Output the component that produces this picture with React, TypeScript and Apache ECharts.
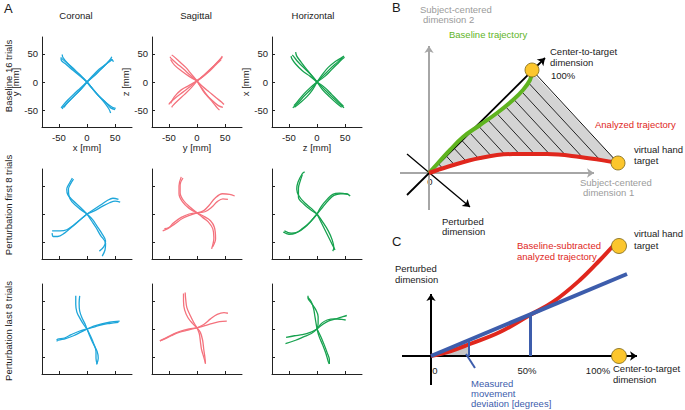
import React, { useEffect, useRef } from "react";
import * as echarts from "echarts";

const FONT = '"Liberation Sans", Arial, sans-serif';

// ---------- Panel A ----------
const planeTitles = ["Coronal", "Sagittal", "Horizontal"];
const rowTitles = ["Baseline 16 trials", "Perturbation first 8 trials", "Perturbation last 8 trials"];
const xNames = ["x [mm]", "y [mm]", "z [mm]"];
const yNames = ["y [mm]", "z [mm]", "x [mm]"];
const tickValues = [-50, 0, 50];
const planeColors = ["#1ea6da", "#f4727d", "#17a24f"];

const coronalBaseline = [
  [[0, 0], [-10, 10], [-22, 22], [-34, 33], [-43, 44], [-44, 49]],
  [[0, 0], [-12, 10], [-25, 21], [-37, 31], [-46, 40], [-46, 44]],
  [[0, 0], [-11, 11], [-24, 23], [-36, 34], [-45, 42]],
  [[0, 0], [12, 10], [24, 22], [35, 33], [42, 41], [44, 45]],
  [[0, 0], [10, 11], [22, 23], [34, 32], [44, 40], [47, 36]],
  [[0, 0], [13, 12], [26, 24], [37, 34], [45, 40]],
  [[0, 0], [-10, -12], [-22, -24], [-33, -35], [-42, -44], [-44, -48]],
  [[0, 0], [-12, -11], [-24, -22], [-35, -33], [-43, -42], [-46, -46]],
  [[0, 0], [-11, -13], [-23, -25], [-34, -36], [-41, -45]],
  [[0, 0], [8, -10], [20, -24], [33, -36], [42, -46], [50, -49]],
  [[0, 0], [10, -12], [22, -26], [32, -38], [39, -48], [42, -55]],
  [[0, 0], [9, -11], [21, -25], [34, -37], [45, -45], [51, -47]],
];
const sagittalBaseline = [
  [[0, 2], [-12, 12], [-24, 23], [-36, 33], [-46, 42], [-48, 45]],
  [[0, 2], [-10, 14], [-20, 26], [-32, 37], [-42, 46], [-45, 48]],
  [[0, 2], [-14, 10], [-28, 20], [-40, 30], [-47, 40]],
  [[0, 2], [12, 12], [24, 23], [35, 34], [43, 43], [45, 46]],
  [[0, 2], [11, 10], [23, 20], [33, 30], [40, 37], [43, 40]],
  [[0, 2], [14, 13], [26, 25], [37, 36], [45, 44]],
  [[0, 2], [-12, -8], [-25, -18], [-38, -28], [-48, -37], [-50, -40]],
  [[0, 2], [-10, -10], [-22, -22], [-34, -33], [-43, -42], [-45, -45]],
  [[0, 2], [-14, -6], [-28, -14], [-40, -26], [-47, -38]],
  [[0, 2], [6, -8], [14, -20], [26, -32], [38, -42], [46, -45]],
  [[0, 2], [8, -10], [18, -24], [28, -36], [36, -46], [40, -50]],
  [[0, 2], [10, -8], [22, -18], [34, -28], [44, -36], [48, -40]],
];
const horizontalBaseline = [
  [[0, 0], [-8, 10], [-18, 22], [-28, 35], [-36, 46], [-38, 53]],
  [[0, 0], [-12, 10], [-26, 20], [-38, 32], [-45, 42], [-46, 46]],
  [[0, 0], [-10, 12], [-22, 24], [-34, 36], [-42, 46], [-44, 48]],
  [[0, 0], [10, 14], [20, 26], [32, 36], [42, 42], [48, 46]],
  [[0, 0], [14, 10], [26, 22], [36, 32], [44, 40], [49, 44]],
  [[0, 0], [12, 12], [24, 24], [35, 34], [45, 43]],
  [[0, 0], [-10, -12], [-22, -24], [-32, -35], [-40, -43], [-43, -46]],
  [[0, 0], [-12, -10], [-24, -22], [-34, -34], [-41, -42]],
  [[0, 0], [-8, -14], [-18, -26], [-30, -37], [-40, -45]],
  [[0, 0], [12, -12], [24, -24], [36, -35], [46, -44], [48, -46]],
  [[0, 0], [10, -14], [22, -26], [34, -37], [44, -45]],
  [[0, 0], [14, -10], [26, -22], [38, -34], [47, -43]],
];
const coronalEarly = [
  [[0, 0], [-12, 12], [-25, 24], [-34, 34], [-36, 44], [-31, 55], [-26, 64]],
  [[0, 0], [-14, 10], [-27, 22], [-32, 32], [-33, 44], [-29, 54], [-24, 62]],
  [[0, 0], [12, 8], [24, 16], [36, 24], [46, 28], [56, 26]],
  [[0, 0], [14, 6], [28, 14], [40, 20], [50, 23], [59, 21]],
  [[0, 0], [-12, -10], [-24, -20], [-36, -28], [-48, -30], [-62, -30]],
  [[0, 0], [-14, -12], [-28, -24], [-40, -34], [-52, -40], [-60, -40], [-62, -34]],
  [[0, 0], [10, -10], [18, -22], [26, -34], [33, -48], [30, -58], [22, -66]],
  [[0, 0], [8, -12], [16, -24], [24, -38], [33, -52], [32, -64], [27, -75]],
];
const sagittalEarly = [
  [[0, 2], [-14, 10], [-26, 22], [-32, 36], [-32, 50], [-28, 66]],
  [[0, 2], [-12, 12], [-24, 24], [-30, 38], [-30, 52], [-25, 64]],
  [[0, 2], [12, 6], [22, 16], [32, 28], [45, 36], [58, 35], [67, 32]],
  [[0, 2], [14, 4], [26, 12], [36, 22], [46, 27], [55, 26]],
  [[0, 2], [-12, -2], [-26, -8], [-40, -18], [-52, -26], [-61, -30]],
  [[0, 2], [-14, 0], [-28, -6], [-42, -16], [-50, -24], [-58, -26]],
  [[0, 2], [10, -6], [20, -14], [28, -26], [30, -42], [26, -62]],
  [[0, 2], [12, -4], [24, -12], [31, -24], [33, -44], [28, -58]],
];
const horizontalEarly = [
  [[0, 0], [-10, 10], [-22, 20], [-32, 32], [-36, 44], [-34, 56], [-26, 72], [-22, 75]],
  [[0, 0], [-12, 8], [-24, 18], [-33, 30], [-33, 46], [-30, 58], [-26, 70]],
  [[0, 0], [10, 12], [20, 24], [30, 33], [42, 36], [52, 36], [59, 32]],
  [[0, 0], [8, 14], [18, 26], [28, 35], [40, 37], [55, 35]],
  [[0, 0], [-10, -12], [-22, -24], [-34, -32], [-46, -34], [-58, -30]],
  [[0, 0], [-12, -14], [-26, -26], [-38, -34], [-50, -36], [-60, -32]],
  [[0, 0], [10, -14], [20, -30], [27, -46], [30, -60], [28, -66]],
  [[0, 0], [8, -16], [16, -32], [24, -48], [30, -60], [32, -64]],
];
const coronalLate = [
  [[0, 0], [-6, 8], [-12, 18], [-18, 30], [-20, 44], [-20, 59]],
  [[0, 0], [-4, 10], [-9, 20], [-13, 32], [-14, 46], [-13, 59]],
  [[0, 0], [14, 4], [28, 8], [42, 10], [56, 12]],
  [[0, 0], [12, 5], [26, 9], [40, 12], [58, 14]],
  [[0, 0], [-12, -6], [-24, -12], [-38, -17], [-51, -20], [-54, -22]],
  [[0, 0], [-14, -4], [-28, -10], [-40, -16], [-52, -18], [-54, -20]],
  [[0, 0], [4, -10], [10, -24], [18, -40], [20, -52], [17, -63]],
  [[0, 0], [6, -12], [12, -26], [16, -40], [16, -52], [18, -62]],
];
const sagittalLate = [
  [[0, 2], [-8, 10], [-16, 20], [-22, 34], [-24, 50], [-24, 63]],
  [[0, 2], [-6, 12], [-12, 24], [-18, 38], [-20, 52], [-21, 65]],
  [[0, 2], [12, 8], [24, 18], [36, 26], [48, 29], [55, 28]],
  [[0, 2], [14, 6], [28, 10], [40, 13], [53, 14]],
  [[0, 2], [-14, 0], [-30, -4], [-44, -10], [-56, -16], [-66, -21]],
  [[0, 2], [-16, -2], [-32, -6], [-46, -12], [-58, -18], [-66, -21]],
  [[0, 2], [6, -6], [10, -20], [12, -36], [14, -50], [15, -62]],
  [[0, 2], [4, -8], [6, -22], [8, -36], [12, -50], [15, -60]],
];
const horizontalLate = [
  [[0, 0], [2, 10], [2, 22], [-2, 34], [-10, 46], [-16, 55], [-16, 59]],
  [[0, 0], [-2, 12], [-4, 24], [-6, 36], [-10, 48], [-16, 56]],
  [[0, 0], [10, 8], [20, 14], [34, 18], [46, 22], [53, 24]],
  [[0, 0], [8, 10], [18, 16], [32, 18], [44, 17], [51, 16]],
  [[0, 0], [-12, -6], [-26, -10], [-40, -12], [-55, -15]],
  [[0, 0], [-10, -8], [-24, -14], [-38, -20], [-56, -26]],
  [[0, 0], [6, -12], [12, -26], [18, -42], [22, -55], [22, -62]],
  [[0, 0], [4, -14], [10, -28], [16, -44], [20, -58], [22, -62]],
];
const panelTrajectories = [
  [coronalBaseline, sagittalBaseline, horizontalBaseline],
  [coronalEarly, sagittalEarly, horizontalEarly],
  [coronalLate, sagittalLate, horizontalLate],
];

// ---------- Panel B (schematic units, origin = start) ----------
const bBaseline = [[0, 0], [9, 10], [21, 23], [34, 36], [51, 48], [68, 60], [84, 73], [94, 83], [101, 93], [103, 101]];
const bAnalyzed = [[0, 0], [18, 6], [51, 15], [84, 19], [118, 19], [151, 16], [184, 11], [189, 10]];
const bTargets = [[103, 103], [189, 10]];
const bHatchOffsets = [18, 33, 48, 63, 78, 93, 108, 123, 138, 153, 168, 183];
const bHatchSlope = 1.08;
const bGreyAxes = [[[0, -37], [0, 127]], [[-29, 0], [165, 0]]];
const bCenterTargetAxis = [[-22, -22], [116, 115]];
const bPerturbedAxis = [[-22, 19], [41, -34]];

// ---------- Panel C ----------
const cAnalyzed = [[0, 0], [20, 5], [39, 12], [69, 24], [99, 41], [122, 54], [149, 76], [169, 96], [182, 110]];
const cFitLine = [[0, 0], [196, 82]];
const cMidDrop = [[99, 0], [99, 41]];
const cEarlyDrop = [[38, 0], [38, 15]];
const cPointer = [[35, 2], [44, -12]];
const cAngleWedge = [[0, 0], [38, 0], [38, 14]];
const cAxes = [[[-29, 0], [206, 0]], [[0, -29], [0, 62]]];
const cTargets = [[188, 0], [188, 110]];

const colLeft = [42, 152, 272];
const rowTop = [37, 169, 284];
const panelSize = 90;

function crossing(poly: number[][], c: number, k: number): number[] | null {
  for (let i = 0; i < poly.length - 1; i++) {
    const f1 = poly[i][0] + poly[i][1] / k - c;
    const f2 = poly[i + 1][0] + poly[i + 1][1] / k - c;
    if ((f1 <= 0 && f2 >= 0) || (f1 >= 0 && f2 <= 0)) {
      const t = f1 === f2 ? 0 : f1 / (f1 - f2);
      return [poly[i][0] + t * (poly[i + 1][0] - poly[i][0]), poly[i][1] + t * (poly[i + 1][1] - poly[i][1])];
    }
  }
  return null;
}

function txt(text: string, x: number, y: number, o: any = {}) {
  return {
    type: "text",
    x,
    y,
    rotation: o.rotation || 0,
    silent: true,
    style: {
      text,
      fill: o.color || "#1a1a1a",
      font: `${o.bold ? "bold " : ""}${o.size || 9.5}px ${FONT}`,
      textAlign: o.align || "left",
      textVerticalAlign: "middle",
    },
  };
}

function buildOption() {
  const grid: any[] = [];
  const xAxis: any[] = [];
  const yAxis: any[] = [];
  const series: any[] = [];
  const axisColor = "#222";

  for (let r = 0; r < 3; r++) {
    for (let c = 0; c < 3; c++) {
      const idx = grid.length;
      grid.push({ left: colLeft[c], top: rowTop[r], width: panelSize, height: panelSize });
      const common = {
        gridIndex: idx,
        type: "value",
        min: -80,
        max: 80,
        splitLine: { show: false },
        axisLine: { show: true, onZero: false, lineStyle: { color: axisColor, width: 1 } },
        axisTick: { show: true, inside: true, length: 3, customValues: tickValues, lineStyle: { color: axisColor } },
        axisLabel: {
          show: r === 0,
          customValues: tickValues,
          color: axisColor,
          fontSize: 9.5,
          fontFamily: FONT,
        },
        nameLocation: "middle",
        nameTextStyle: { color: axisColor, fontSize: 9.5, fontFamily: FONT },
      };
      xAxis.push({ ...common, axisLabel: { ...common.axisLabel, margin: 5 }, name: r === 0 ? xNames[c] : "", nameGap: 15 });
      yAxis.push({ ...common, axisLabel: { ...common.axisLabel, margin: 4 }, name: r === 0 ? yNames[c] : "", nameGap: 15 });
      for (const traj of panelTrajectories[r][c]) {
        series.push({
          type: "line",
          xAxisIndex: idx,
          yAxisIndex: idx,
          data: traj,
          symbol: "none",
          smooth: 0.35,
          silent: true,
          lineStyle: { color: planeColors[c], width: 1.3 },
        });
      }
    }
  }

  // Panel B grid (1 unit = 1 px)
  const bi = grid.length;
  grid.push({ left: 380, top: 0, width: 305, height: 210 });
  xAxis.push({ gridIndex: bi, type: "value", min: -49, max: 256, show: false });
  yAxis.push({ gridIndex: bi, type: "value", min: -37, max: 173, show: false });
  // Panel C grid
  const ci = grid.length;
  grid.push({ left: 380, top: 210, width: 305, height: 200 });
  xAxis.push({ gridIndex: ci, type: "value", min: -51, max: 254, show: false });
  yAxis.push({ gridIndex: ci, type: "value", min: -54, max: 146, show: false });

  // B: shaded hatched area
  series.push({
    type: "custom",
    xAxisIndex: bi,
    yAxisIndex: bi,
    data: [[0, 0]],
    silent: true,
    z: 1,
    renderItem: (_p: any, api: any) => {
      const poly = [...bBaseline, ...bAnalyzed.slice().reverse()].map((p) => api.coord(p));
      const children: any[] = [
        { type: "polygon", shape: { points: poly }, style: { fill: "#d4d4d4", stroke: "none" } },
      ];
      for (const c of bHatchOffsets) {
        const a = crossing(bBaseline, c, bHatchSlope);
        const b = crossing(bAnalyzed, c, bHatchSlope);
        if (a && b) {
          const pa = api.coord(a);
          const pb = api.coord(b);
          children.push({ type: "line", shape: { x1: pa[0], y1: pa[1], x2: pb[0], y2: pb[1] }, style: { stroke: "#111", lineWidth: 0.9 } });
        }
      }
      const t1 = api.coord(bTargets[0]);
      const t2 = api.coord(bTargets[1]);
      children.push({ type: "line", shape: { x1: t1[0], y1: t1[1], x2: t2[0], y2: t2[1] }, style: { stroke: "#111", lineWidth: 1 } });
      return { type: "group", children };
    },
  });
  series.push({
    type: "lines",
    coordinateSystem: "cartesian2d",
    xAxisIndex: bi,
    yAxisIndex: bi,
    silent: true,
    z: 2,
    symbol: ["none", "arrow"],
    symbolSize: 7,
    lineStyle: { color: "#a6a6a6", width: 2, opacity: 1 },
    data: bGreyAxes.map((coords) => ({ coords })),
  });
  series.push({
    type: "lines",
    coordinateSystem: "cartesian2d",
    xAxisIndex: bi,
    yAxisIndex: bi,
    silent: true,
    z: 3,
    symbol: ["none", "arrow"],
    symbolSize: 7,
    lineStyle: { color: "#000", width: 1.8, opacity: 1 },
    data: [{ coords: bCenterTargetAxis }, { coords: bPerturbedAxis, lineStyle: { width: 1.3 } }],
  });
  series.push({
    type: "line", xAxisIndex: bi, yAxisIndex: bi, data: bBaseline, symbol: "none", smooth: 0.4, silent: true, z: 4,
    lineStyle: { color: "#5fb41f", width: 4 },
  });
  series.push({
    type: "line", xAxisIndex: bi, yAxisIndex: bi, data: bAnalyzed, symbol: "none", smooth: 0.4, silent: true, z: 4,
    lineStyle: { color: "#e0271d", width: 4 },
  });
  series.push({
    type: "scatter", xAxisIndex: bi, yAxisIndex: bi, data: bTargets, symbolSize: 14, silent: true, z: 5,
    itemStyle: { color: "#fcc62d", borderColor: "#7a6416", borderWidth: 0.8, opacity: 1 },
  });

  // C
  series.push({
    type: "custom",
    xAxisIndex: ci,
    yAxisIndex: ci,
    data: [[0, 0]],
    silent: true,
    z: 1,
    renderItem: (_p: any, api: any) => ({
      type: "polygon",
      shape: { points: cAngleWedge.map((p) => api.coord(p)) },
      style: { fill: "#c8c8c8", stroke: "none" },
    }),
  });
  series.push({
    type: "lines",
    coordinateSystem: "cartesian2d",
    xAxisIndex: ci,
    yAxisIndex: ci,
    silent: true,
    z: 2,
    symbol: ["none", "arrow"],
    symbolSize: 7,
    lineStyle: { color: "#000", width: 2, opacity: 1 },
    data: cAxes.map((coords) => ({ coords })),
  });
  series.push({
    type: "line", xAxisIndex: ci, yAxisIndex: ci, data: cAnalyzed, symbol: "none", smooth: 0.4, silent: true, z: 3,
    lineStyle: { color: "#e0271d", width: 4 },
  });
  series.push({
    type: "lines",
    coordinateSystem: "cartesian2d",
    xAxisIndex: ci,
    yAxisIndex: ci,
    silent: true,
    z: 4,
    symbol: "none",
    lineStyle: { color: "#3d5dac", width: 4, opacity: 1 },
    data: [
      { coords: cFitLine },
      { coords: cMidDrop, lineStyle: { width: 3 } },
      { coords: cEarlyDrop, lineStyle: { width: 2 } },
      { coords: cPointer, lineStyle: { width: 2 } },
    ],
  });
  series.push({
    type: "scatter", xAxisIndex: ci, yAxisIndex: ci, data: cTargets, symbolSize: 15, silent: true, z: 5,
    itemStyle: { color: "#fcc62d", borderColor: "#7a6416", borderWidth: 0.8, opacity: 1 },
  });

  const grey = "#9b9b9b";
  const red = "#e0271d";
  const green = "#5fb41f";
  const blue = "#3d5dac";
  const graphic: any[] = [
    txt("A", 4, 8, { size: 13 }),
    txt(planeTitles[0], 76, 15, { align: "center" }),
    txt(planeTitles[1], 196, 15, { align: "center" }),
    txt(planeTitles[2], 313, 15, { align: "center" }),
    txt(rowTitles[0], 8, 76, { align: "center", rotation: Math.PI / 2 }),
    txt(rowTitles[1], 8, 205, { align: "center", rotation: Math.PI / 2 }),
    txt(rowTitles[2], 8, 331, { align: "center", rotation: Math.PI / 2 }),
    // B
    txt("B", 392, 7, { size: 13 }),
    txt("Subject-centered", 420, 9, { color: grey }),
    txt("dimension 2", 423, 19, { color: grey }),
    txt("Baseline trajectory", 449, 34, { color: green }),
    txt("Center-to-target", 550, 51),
    txt("dimension", 550, 62),
    txt("100%", 551, 75),
    txt("Analyzed trajectory", 595, 124, { color: red }),
    txt("virtual hand", 634, 149),
    txt("target", 634, 160),
    txt("0", 430, 181, { align: "center" }),
    txt("Subject-centered", 580, 182, { color: grey }),
    txt("dimension 1", 583, 192, { color: grey }),
    txt("Perturbed", 442, 221),
    txt("dimension", 442, 231),
    // C
    txt("C", 392, 241, { size: 13 }),
    txt("Perturbed", 395, 268),
    txt("dimension", 395, 279),
    txt("Baseline-subtracted", 517, 245, { color: red }),
    txt("analyzed trajectory", 517, 256, { color: red }),
    txt("virtual hand", 634, 233),
    txt("target", 634, 245),
    txt("0", 435, 370, { align: "center" }),
    txt("50%", 527, 370, { align: "center" }),
    txt("100%", 598, 370, { align: "center" }),
    txt("Center-to-target", 613, 368),
    txt("dimension", 613, 379),
    txt("Measured", 471, 383, { color: blue }),
    txt("movement", 471, 393, { color: blue }),
    txt("deviation [degrees]", 471, 403, { color: blue }),
  ];

  return {
    animation: false,
    backgroundColor: "#fff",
    grid,
    xAxis,
    yAxis,
    series,
    graphic,
  };
}

export default function App() {
  const ref = useRef<HTMLDivElement>(null);
  useEffect(() => {
    const chart = echarts.init(ref.current!, null, { renderer: "svg" });
    chart.setOption(buildOption() as any);
    return () => chart.dispose();
  }, []);
  return (
    <div
      ref={ref}
      style={{ position: "fixed", left: 0, top: 0, width: 685, height: 410, background: "#fff" }}
    />
  );
}
